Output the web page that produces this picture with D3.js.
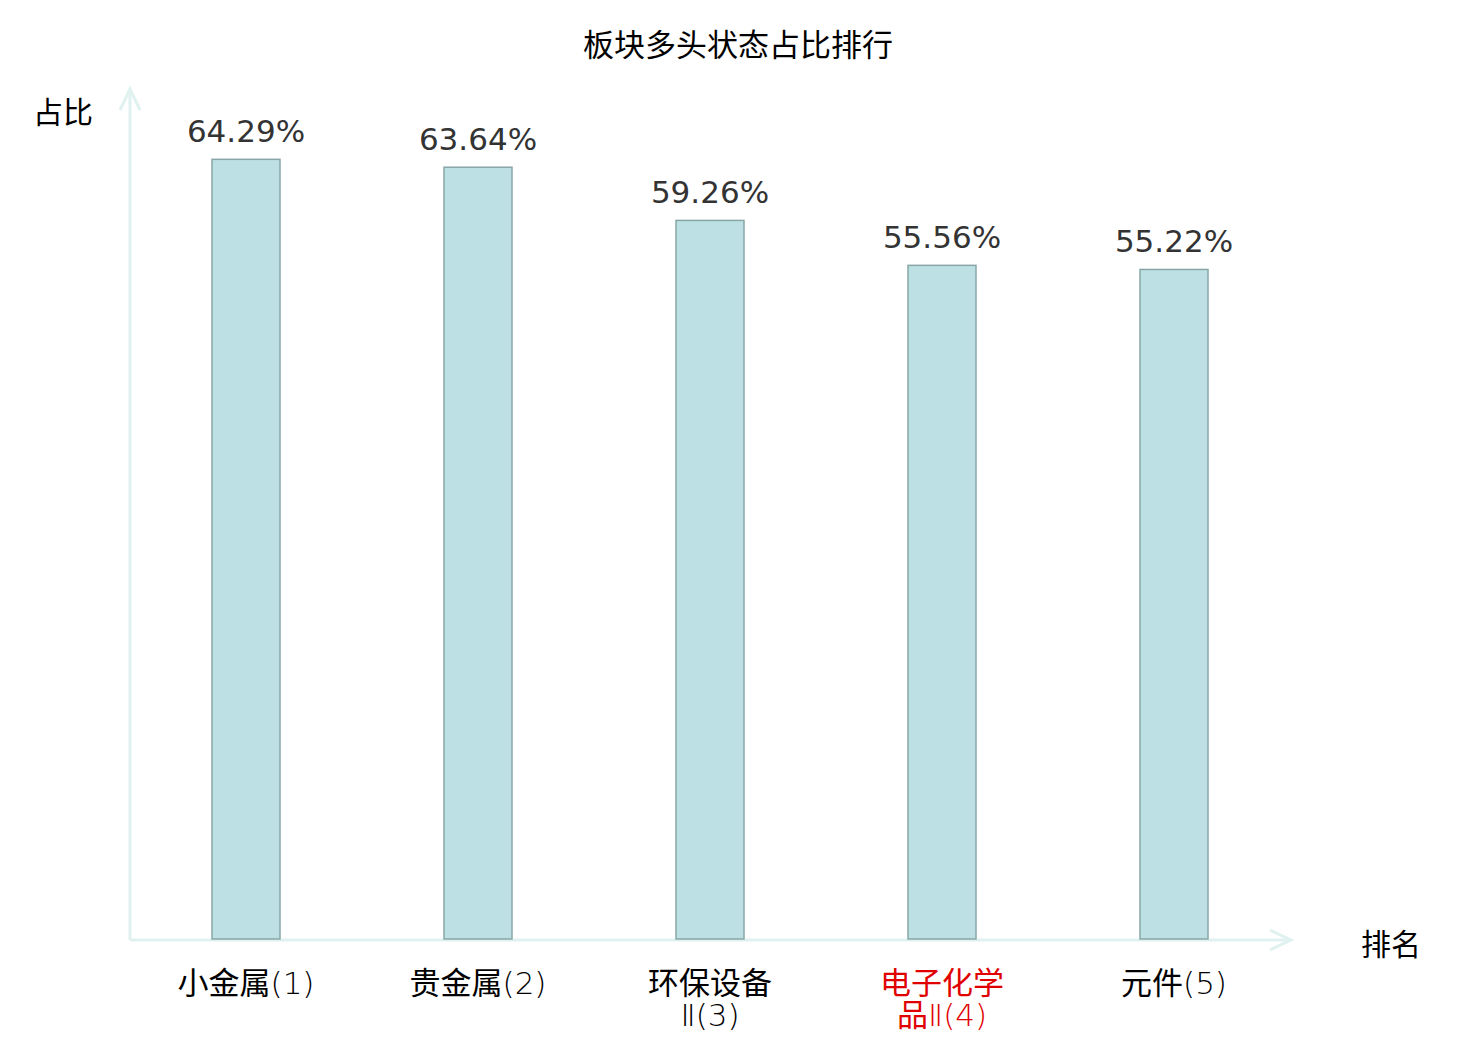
<!DOCTYPE html>
<html>
<head>
<meta charset="utf-8">
<script src="https://cdn.jsdelivr.net/npm/d3@7"></script>
<style>
  body { margin: 0; background: #fff; }
  svg { display: block; }
</style>
</head>
<body>
<div id="chart"></div>
<script>
var chart_title = "板块多头状态占比排行";
var categories = ["小金属(1)", "贵金属(2)", "环保设备Ⅱ(3)", "电子化学品Ⅱ(4)", "元件(5)"];
var values = [64.29, 63.64, 59.26, 55.56, 55.22];
var highlight = [false, false, false, true, false];
var y_name = "占比", x_name = "排名";

var width = 1480, height = 1040;
var cjk = "'Noto Sans CJK SC', 'DejaVu Sans', sans-serif";
var cat_font = "'DejaVu Sans Light', 'Noto Sans CJK SC', sans-serif";

var svg = d3.select("#chart").append("svg")
    .attr("width", width)
    .attr("height", height);

var x0 = 130, x1 = 1290, y0 = 940, y1 = 90;

var x = d3.scaleBand()
    .domain(categories)
    .range([x0, x1])
    .paddingInner(0.707)
    .paddingOuter(0.3535);

var y = d3.scaleLinear()
    .domain([0, 70])
    .range([y0, y1]);

// title
svg.append("text")
    .attr("x", 738).attr("y", 42)
    .attr("text-anchor", "middle")
    .attr("dominant-baseline", "central")
    .style("font-family", cjk)
    .style("font-size", "31px")
    .attr("fill", "#000")
    .text(chart_title);

// axes with arrows
var axis_col = "#dff2ef";
var g = svg.append("g");

g.append("path")
    .attr("d", "M" + x0 + "," + y0 + "V" + y1)
    .attr("stroke", axis_col).attr("stroke-width", 3).attr("fill", "none");
g.append("path")
    .attr("d", "M" + (x0 - 10) + "," + (y1 + 20) + "L" + x0 + "," + (y1 - 1) + "L" + (x0 + 10) + "," + (y1 + 20))
    .attr("stroke", axis_col).attr("stroke-width", 3).attr("fill", "none");

g.append("path")
    .attr("d", "M" + x0 + "," + y0 + "H" + x1)
    .attr("stroke", axis_col).attr("stroke-width", 3).attr("fill", "none");
g.append("path")
    .attr("d", "M" + (x1 - 20) + "," + (y0 - 10) + "L" + (x1 + 1) + "," + y0 + "L" + (x1 - 20) + "," + (y0 + 10))
    .attr("stroke", axis_col).attr("stroke-width", 3).attr("fill", "none");

// axis names
svg.append("text")
    .attr("x", 63).attr("y", 110)
    .attr("text-anchor", "middle")
    .attr("dominant-baseline", "central")
    .style("font-family", cjk).style("font-size", "30px")
    .text(y_name);
svg.append("text")
    .attr("x", 1391).attr("y", 942)
    .attr("text-anchor", "middle")
    .attr("dominant-baseline", "central")
    .style("font-family", cjk).style("font-size", "30px")
    .text(x_name);

// bars
var data = categories.map(function(c, i) {
    return {name: c, value: values[i], hl: highlight[i]};
});

svg.selectAll(".bar")
    .data(data)
    .enter().append("rect")
    .classed("bar", true)
    .attr("x", function(d) { return x(d.name); })
    .attr("y", function(d) { return y(d.value); })
    .attr("width", x.bandwidth())
    .attr("height", function(d) { return y0 - 1 - y(d.value); })
    .attr("fill", "#bce0e3")
    .attr("stroke", "#88a6a7")
    .attr("stroke-width", 1.5);

// value labels
svg.selectAll(".val")
    .data(data)
    .enter().append("text")
    .classed("val", true)
    .attr("x", function(d) { return x(d.name) + x.bandwidth() / 2; })
    .attr("y", function(d) { return y(d.value) - 17; })
    .attr("text-anchor", "middle")
    .style("font-family", "'DejaVu Sans', sans-serif")
    .style("font-size", "31px")
    .attr("fill", "#333")
    .text(function(d) { return d.value.toFixed(2) + "%"; });

// category labels, long names wrap after 4 chars
var split_name = function(s) {
    if (s.length > 7) return [s.slice(0, 4), s.slice(4)];
    return [s];
};

svg.selectAll(".cat")
    .data(data)
    .enter().append("text")
    .classed("cat", true)
    .attr("text-anchor", "middle")
    .style("font-family", cat_font)
    .style("font-size", "31px")
    .attr("fill", function(d) { return d.hl ? "#e00000" : "#000"; })
    .each(function(d) {
        var cx = x(d.name) + x.bandwidth() / 2;
        d3.select(this).selectAll("tspan")
            .data(split_name(d.name))
            .enter().append("tspan")
            .attr("x", cx)
            .attr("y", function(t, i) { return 983 + i * 32; })
            .attr("dominant-baseline", "central")
            .text(function(t) { return t; });
    });
</script>
</body>
</html>
